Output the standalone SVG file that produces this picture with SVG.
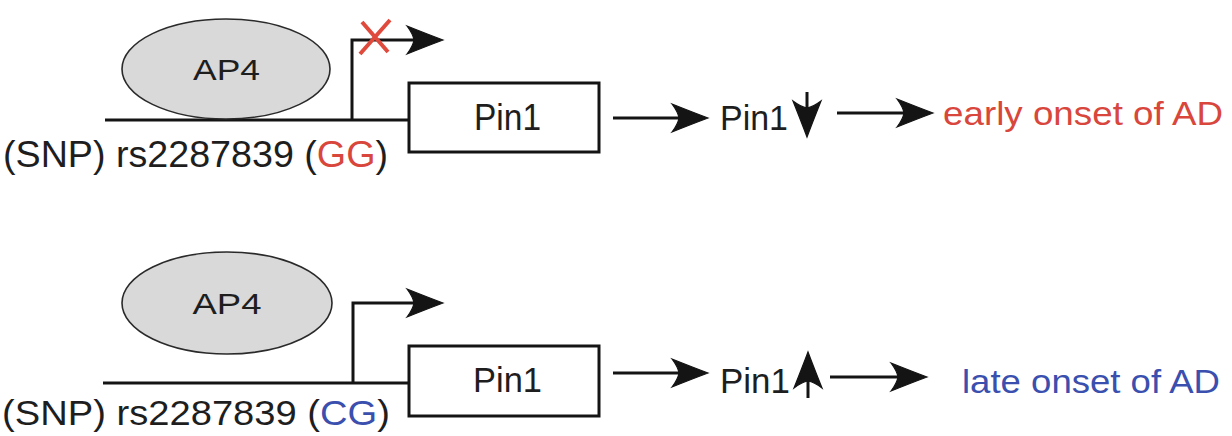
<svg xmlns="http://www.w3.org/2000/svg" width="1232" height="436" viewBox="0 0 1232 436">
<style>
  .t { font-family: "Liberation Sans", Arial, sans-serif; fill: #1e1e1e; }
  .line { stroke: #141414; stroke-width: 3; fill: none; }
  .box { stroke: #141414; stroke-width: 3; fill: #ffffff; }
  .oval { stroke: #2a2a2a; stroke-width: 1.6; fill: #d9d9d9; }
  .red { fill: #d8463c; }
  .blue { fill: #3a4fae; }
</style>
<defs>
  <marker id="ah" markerUnits="userSpaceOnUse" viewBox="-40 -16 44 32" refX="-8" refY="0" markerWidth="44" markerHeight="32" orient="auto">
    <path d="M0,0 Q-16,-6 -36,-14 Q-30,-6 -29,0 Q-30,6 -36,14 Q-16,6 0,0 Z" fill="#141414" stroke="#141414" stroke-width="1.2"/>
  </marker>
</defs>
<rect width="1232" height="436" fill="#ffffff"/>

<g id="connectors">
  <!-- top row -->
  <line class="line" x1="105" y1="120" x2="409" y2="120"/>
  <polyline class="line" points="352,120 352,40 435,40" marker-end="url(#ah)"/>
  <line class="line" x1="613" y1="118" x2="700" y2="118" marker-end="url(#ah)"/>
  <line class="line" x1="807" y1="92" x2="807" y2="129" marker-end="url(#ah)"/>
  <line class="line" x1="837" y1="113" x2="925" y2="113" marker-end="url(#ah)"/>
  <!-- bottom row -->
  <line class="line" x1="103" y1="383" x2="409" y2="383"/>
  <polyline class="line" points="353,383 353,303 435,303" marker-end="url(#ah)"/>
  <line class="line" x1="613" y1="373" x2="700" y2="373" marker-end="url(#ah)"/>
  <line class="line" x1="808" y1="398" x2="808" y2="360" marker-end="url(#ah)"/>
  <line class="line" x1="830" y1="377" x2="919" y2="377" marker-end="url(#ah)"/>
</g>

<g id="ap4-top">
  <ellipse class="oval" cx="226" cy="69" rx="104" ry="50"/>
  <text class="t" x="226.5" y="80" font-size="30" text-anchor="middle" textLength="67" lengthAdjust="spacingAndGlyphs">AP4</text>
</g>
<g id="block-x">
  <path d="M362,22 L388,52 M390,20 L360,54" stroke="#df4a3c" stroke-width="4" fill="none"/>
</g>
<g id="pin1-gene-top">
  <rect class="box" x="409" y="83" width="190" height="69"/>
  <text class="t" x="507.5" y="130" font-size="36" text-anchor="middle" textLength="67" lengthAdjust="spacingAndGlyphs">Pin1</text>
</g>
<g id="snp-top">
  <text class="t" x="3" y="167" font-size="36" textLength="385" lengthAdjust="spacingAndGlyphs">(SNP) rs2287839 (<tspan class="red">GG</tspan>)</text>
</g>
<g id="pin1-down">
  <text class="t" x="720" y="130" font-size="35" textLength="68" lengthAdjust="spacingAndGlyphs">Pin1</text>
</g>
<g id="early-onset">
  <text class="t red" x="943" y="125" font-size="34" textLength="280" lengthAdjust="spacingAndGlyphs">early onset of AD</text>
</g>

<g id="ap4-bottom">
  <ellipse class="oval" cx="227" cy="303" rx="105" ry="51"/>
  <text class="t" x="227" y="314" font-size="30" text-anchor="middle" textLength="69" lengthAdjust="spacingAndGlyphs">AP4</text>
</g>
<g id="pin1-gene-bottom">
  <rect class="box" x="409" y="346" width="190" height="70"/>
  <text class="t" x="507.5" y="392" font-size="35" text-anchor="middle" textLength="69" lengthAdjust="spacingAndGlyphs">Pin1</text>
</g>
<g id="snp-bottom">
  <text class="t" x="2" y="425" font-size="35" textLength="388" lengthAdjust="spacingAndGlyphs">(SNP) rs2287839 (<tspan class="blue">CG</tspan>)</text>
</g>
<g id="pin1-up">
  <text class="t" x="720" y="393" font-size="35" textLength="70" lengthAdjust="spacingAndGlyphs">Pin1</text>
</g>
<g id="late-onset">
  <text class="t blue" x="962" y="393" font-size="34" textLength="258" lengthAdjust="spacingAndGlyphs">late onset of AD</text>
</g>
</svg>
